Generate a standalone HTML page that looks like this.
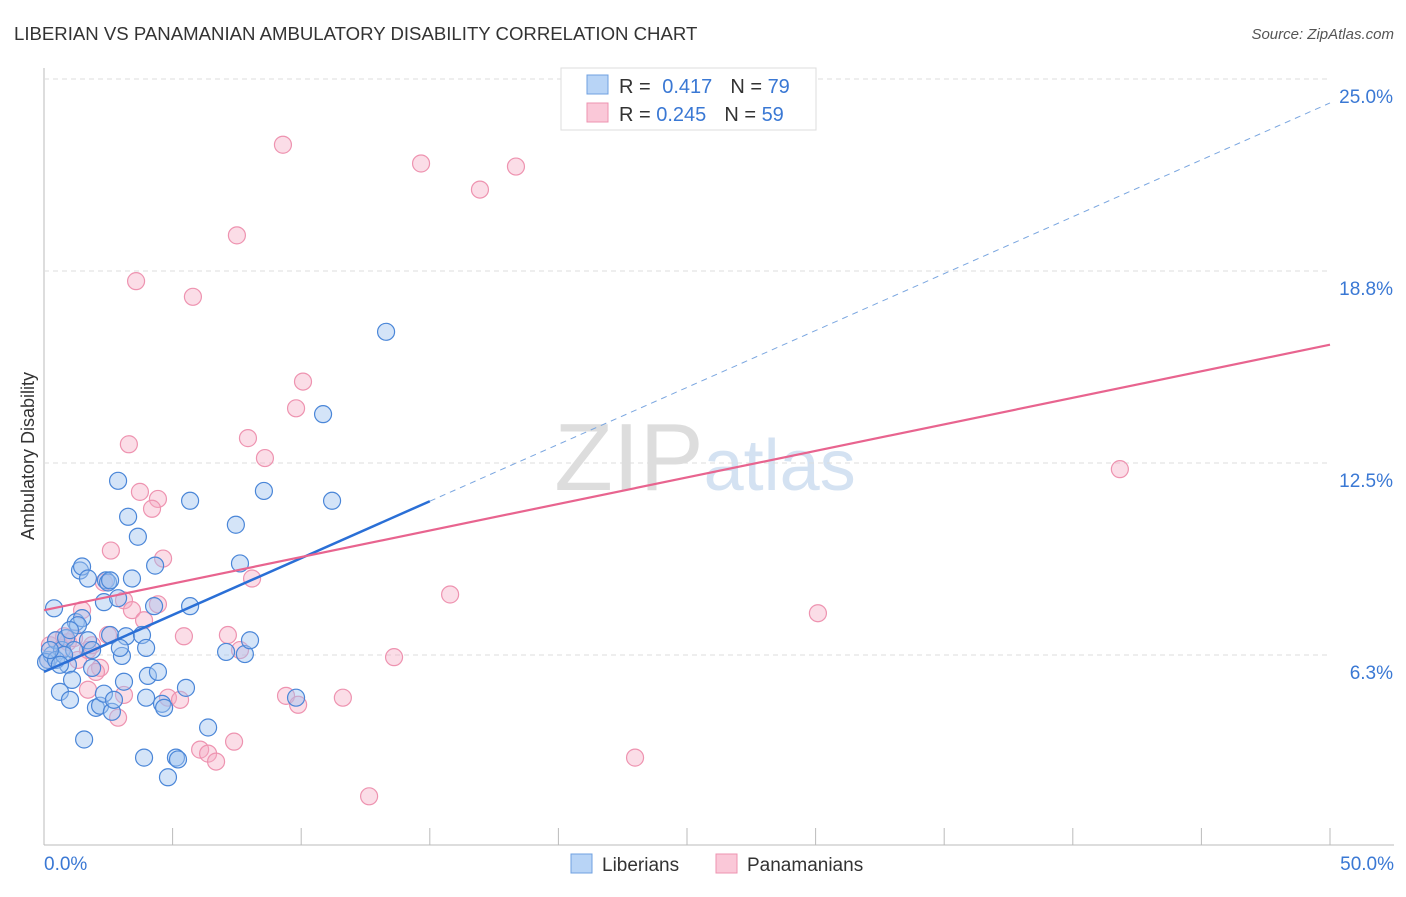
<!DOCTYPE html>
<html><head><meta charset="utf-8"><style>
body{margin:0;background:#fff;font-family:"Liberation Sans",sans-serif;}
svg text{font-family:"Liberation Sans",sans-serif;}
</style></head><body>
<svg id="chart" width="1406" height="892" xmlns="http://www.w3.org/2000/svg">
<text x="14" y="40" font-size="18.6" fill="#333">LIBERIAN VS PANAMANIAN AMBULATORY DISABILITY CORRELATION CHART</text>
<text x="1394" y="39" font-size="15" fill="#555" text-anchor="end" font-style="italic">Source: ZipAtlas.com</text>
<text x="705" y="490" font-size="96" fill="#ddd" text-anchor="middle" font-family="Liberation Serif">ZIP<tspan fill="#d4e2f2" font-family="Liberation Sans" font-size="72">atlas</tspan></text>
<text transform="translate(34,456) rotate(-90)" font-size="18" fill="#333" text-anchor="middle">Ambulatory Disability</text>
<g id="grid"></g><g id="pts"></g><g id="lines"></g>
<g>
<rect x="561" y="68" width="255" height="62" fill="#fff" stroke="#ddd"/>
<rect x="587" y="75" width="21" height="19" fill="#b8d4f6" stroke="#6fa0e0"/>
<rect x="587" y="103" width="21" height="19" fill="#fac8d8" stroke="#ee93b0"/>
<text x="619" y="93" font-size="20" fill="#333">R = <tspan fill="#3a78d4" dx="6">0.417</tspan><tspan fill="#333" dx="18">N = </tspan><tspan fill="#3a78d4">79</tspan></text>
<text x="619" y="121" font-size="20" fill="#333">R = <tspan fill="#3a78d4">0.245</tspan><tspan fill="#333" dx="18">N = </tspan><tspan fill="#3a78d4">59</tspan></text>
</g>
<g>
<rect x="571" y="854" width="21" height="19" fill="#b8d4f6" stroke="#6fa0e0"/>
<text x="602" y="871" font-size="19" fill="#333">Liberians</text>
<rect x="716" y="854" width="21" height="19" fill="#fac8d8" stroke="#ee93b0"/>
<text x="747" y="871" font-size="19" fill="#333">Panamanians</text>
</g>
<text x="44" y="870" font-size="19" fill="#3a78d4">0.0%</text>
<text x="1394" y="870" font-size="19" fill="#3a78d4" text-anchor="end">50.0%</text>
</svg>
<script>
const yTicks=[6.25,12.5,18.75,25];
const yTickLabels=["6.3%","12.5%","18.8%","25.0%"];
const libX=[0.39,0.16,0.31,0.62,1.01,0.93,1.09,1.40,1.48,1.71,1.56,1.24,1.48,1.32,1.71,1.87,1.87,2.02,2.18,2.33,2.41,2.49,2.33,2.57,2.57,2.64,2.72,2.88,2.88,3.03,3.11,3.19,3.27,3.42,3.65,3.81,3.97,3.89,3.97,4.04,4.28,4.32,4.43,4.59,4.67,4.82,5.13,5.21,5.52,5.68,5.68,6.38,7.08,7.46,7.62,7.81,8.01,8.55,9.80,10.85,11.20,13.30,0.47,0.70,0.86,1.01,0.08,1.17,0.47,0.78,0.23,0.62,2.95];
const libY=[7.77,6.09,6.25,5.05,4.79,5.93,5.44,9.00,9.13,8.74,3.50,7.32,7.45,7.22,6.73,6.41,5.83,4.53,4.60,7.97,8.68,8.61,4.99,8.68,6.90,4.40,4.79,8.10,11.92,6.22,5.38,6.86,10.75,8.74,10.10,6.90,6.48,2.91,4.86,5.57,7.84,9.16,5.70,4.66,4.53,2.27,2.91,2.85,5.18,11.27,7.84,3.89,6.35,10.49,9.23,6.28,6.73,11.59,4.86,14.09,11.27,16.77,6.73,6.41,6.80,7.06,6.02,6.41,6.09,6.25,6.41,5.93,6.48];
const panX=[9.29,14.66,18.35,16.95,7.50,3.58,5.79,10.07,9.80,3.30,7.93,8.59,41.83,3.73,4.43,4.20,2.60,4.63,8.09,2.33,15.79,3.11,4.43,1.48,3.42,30.09,3.89,2.49,5.44,7.15,7.62,13.61,2.18,2.02,1.71,3.11,4.82,5.29,9.41,9.88,11.62,2.88,6.07,6.38,6.69,7.39,22.98,12.64,0.23,0.47,0.70,0.93,1.17,1.32,1.71,0.16,1.87,0.78];
const panY=[22.86,22.25,22.15,21.40,19.91,18.42,17.91,15.15,14.28,13.11,13.31,12.66,12.30,11.56,11.33,11.01,9.65,9.39,8.74,8.61,8.22,8.03,7.90,7.71,7.71,7.61,7.38,6.90,6.86,6.90,6.41,6.18,5.83,5.70,5.12,4.95,4.86,4.79,4.92,4.63,4.86,4.21,3.17,3.04,2.78,3.43,2.91,1.65,6.57,6.73,6.48,6.67,6.80,6.09,6.41,6.09,6.57,6.86];
const libTrend=[5.70,24.22];
const panTrend=[7.71,16.35];
const NS="http://www.w3.org/2000/svg";
const X=v=>44+v/50*1286, Y=v=>847-v*30.72;
function mk(t,a,p){const e=document.createElementNS(NS,t);for(const k in a)e.setAttribute(k,a[k]);p.appendChild(e);return e;}
const grid=document.getElementById('grid');
let ax=mk('line',{x1:44,y1:68,x2:44,y2:845,stroke:'#bbb'},grid);


let bx=mk('line',{x1:44,y1:845,x2:1394,y2:845,stroke:'#bbb'},grid);


for(let i=1;i<=10;i++){let t=mk('line',{x1:44+i*128.6,y1:828,x2:44+i*128.6,y2:845,stroke:'#bbb'},grid);

}
yTicks.forEach((v,i)=>{let g=mk('line',{x1:44,y1:Y(v),x2:1330,y2:Y(v),stroke:'#ddd','stroke-dasharray':'5,4'},grid);


let t=mk('text',{x:1393,y:Y(v)+24,'font-size':19,fill:'#3a78d4','text-anchor':'end'},grid);t.textContent=yTickLabels[i];

});
const pts=document.getElementById('pts');
panX.forEach((x,i)=>{let c=mk('circle',{cx:X(x),cy:Y(panY[i]),r:8.5,fill:'rgba(246,170,196,0.4)',stroke:'#ee93b0','stroke-width':1.2},pts);

});
libX.forEach((x,i)=>{let c=mk('circle',{cx:X(x),cy:Y(libY[i]),r:8.5,fill:'rgba(160,196,240,0.45)',stroke:'#4a86d8','stroke-width':1.2},pts);

});
const ln=document.getElementById('lines');
const lb=x=>libTrend[0]+(libTrend[1]-libTrend[0])*x/50;
let l1=mk('line',{x1:X(15),y1:Y(lb(15)),x2:X(50),y2:Y(lb(50)),stroke:'#7aa6e0','stroke-dasharray':'6,5','stroke-width':1},ln);


let l2=mk('line',{x1:X(0),y1:Y(lb(0)),x2:X(15),y2:Y(lb(15)),stroke:'#2a6fd6','stroke-width':2.5},ln);


let l3=mk('line',{x1:X(0),y1:Y(panTrend[0]),x2:X(50),y2:Y(panTrend[1]),stroke:'#e8648f','stroke-width':2.2},ln);


</script>
</body></html>
